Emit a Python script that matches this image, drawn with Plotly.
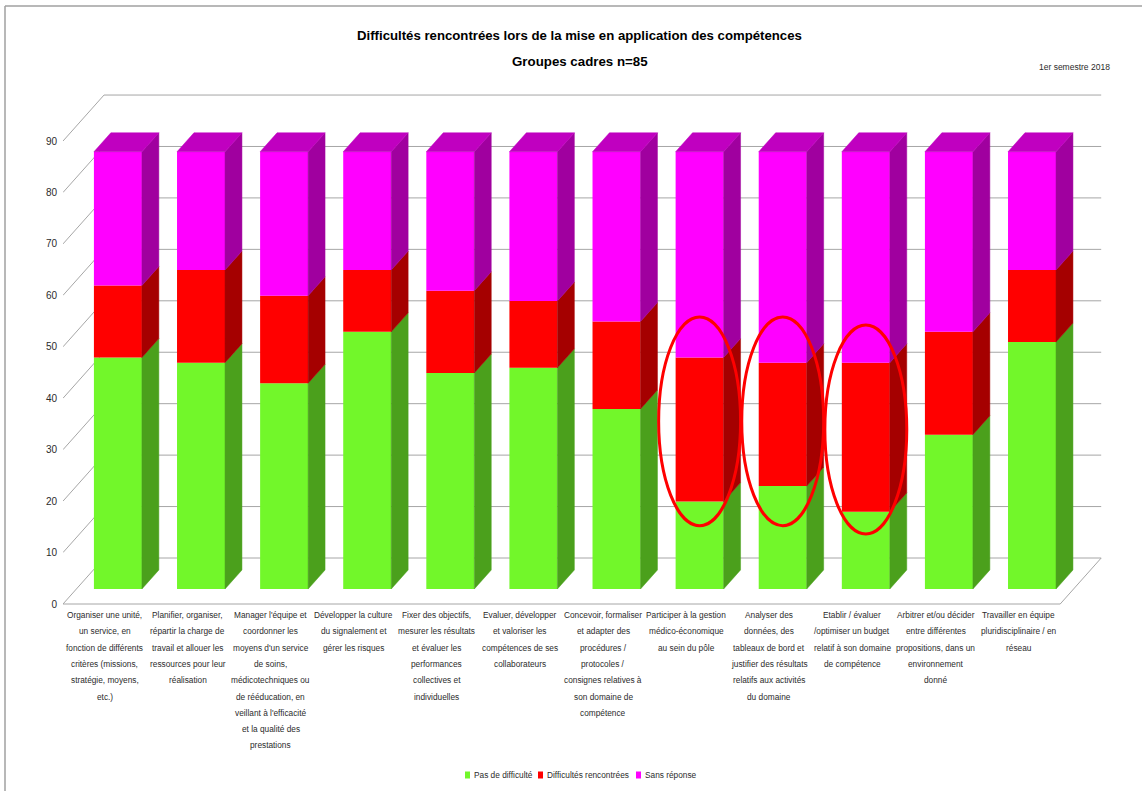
import plotly.graph_objects as go

# ---- data -------------------------------------------------------------
categories = [
    "Organiser une unité,<br>un service, en<br>fonction de différents<br>critères (missions,<br>stratégie, moyens,<br>etc.)",
    "Planifier, organiser,<br>répartir la charge de<br>travail et allouer les<br>ressources pour leur<br>réalisation",
    "Manager l'équipe et<br>coordonner les<br>moyens d'un service<br>de soins,<br>médicotechniques ou<br>de rééducation, en<br>veillant à l'efficacité<br>et la qualité des<br>prestations",
    "Développer la culture<br>du signalement et<br>gérer les risques",
    "Fixer des objectifs,<br>mesurer les résultats<br>et évaluer les<br>performances<br>collectives et<br>individuelles",
    "Evaluer, développer<br>et valoriser les<br>compétences de ses<br>collaborateurs",
    "Concevoir, formaliser<br>et adapter des<br>procédures /<br>protocoles /<br>consignes relatives à<br>son domaine de<br>compétence",
    "Participer à la gestion<br>médico-économique<br>au sein du pôle",
    "Analyser des<br>données, des<br>tableaux de bord et<br>justifier des résultats<br>relatifs aux activités<br>du domaine",
    "Etablir / évaluer<br>/optimiser un budget<br>relatif à son domaine<br>de compétence",
    "Arbitrer et/ou décider<br>entre différentes<br>propositions, dans un<br>environnement<br>donné",
    "Travailler en équipe<br>pluridisciplinaire / en<br>réseau",
]
pas_de_difficulte = [45, 44, 40, 50, 42, 43, 35, 17, 20, 15, 30, 48]
difficultes = [14, 18, 17, 12, 16, 13, 17, 28, 24, 29, 20, 14]
sans_reponse = [26, 23, 28, 23, 27, 29, 33, 40, 41, 41, 35, 23]
y_ticks = [0, 10, 20, 30, 40, 50, 60, 70, 80, 90]

series = [
    ("Pas de difficulté", pas_de_difficulte, "#72F72A", "#4BA01C"),
    ("Difficultés rencontrées", difficultes, "#FF0000", "#A50000"),
    ("Sans réponse", sans_reponse, "#FF00FF", "#A0009F"),
]
top_colour = "#C000C0"

# categories whose "difficulties" segment is circled (index, centre value)
highlights = [(7, 32.6), (8, 32.6), (9, 31.0)]

# ---- oblique projection settings --------------------------------------
PX_PER_CAT = 83.1          # horizontal pixels per category
PX_PER_UNIT = 5.144        # vertical pixels per value unit
DX = 41 / PX_PER_CAT       # depth of the floor, in category units
DV = 46 / PX_PER_UNIT      # depth of the floor, in value units
F0, F1 = 0.326, 0.739      # front / back of the bars as a fraction of depth
BAR_W = 48 / PX_PER_CAT

W, H = 1142, 791
ML, MR, MT, MB = 63, 40, 84, 179
plot_w = W - ML - MR
plot_h = H - MT - MB
x_range = [-0.5, -0.5 + plot_w / PX_PER_CAT]
v_bottom = -(H - MB - 604) / PX_PER_UNIT
y_range = [v_bottom, v_bottom + plot_h / PX_PER_UNIT]

n = len(categories)
x_left, x_right = -0.5, n - 0.5
grid_col = "#A6A6A6"
txt_font = "Liberation Sans, Arial, sans-serif"
txt_col = "#2b2b2b"


def paper_y(py):
    return (H - MB - py) / plot_h


def paper_x(px):
    return (px - ML) / plot_w


fig = go.Figure()

# front faces of the stacked columns
cum = [0.0] * n
bottoms, tops = [], []
for name, vals, col, side in series:
    b = list(cum)
    t = [c + v for c, v in zip(cum, vals)]
    bottoms.append(b)
    tops.append(t)
    fig.add_trace(go.Bar(
        x=[i + F0 * DX for i in range(n)],
        y=vals,
        base=[bb + F0 * DV for bb in b],
        width=BAR_W,
        name=name,
        marker=dict(color=col, line=dict(width=0)),
        hoverinfo="skip",
        showlegend=False,
    ))
    cum = t

# side faces
dd_x = (F1 - F0) * DX
for (name, vals, col, side), b, t in zip(series, bottoms, tops):
    xs, ys = [], []
    for i in range(n):
        xr = i + F0 * DX + BAR_W / 2
        xs += [xr, xr + dd_x, xr + dd_x, xr, xr, None]
        ys += [b[i] + F0 * DV, b[i] + F1 * DV, t[i] + F1 * DV, t[i] + F0 * DV,
               b[i] + F0 * DV, None]
    fig.add_trace(go.Scatter(x=xs, y=ys, mode="lines", fill="toself",
                             fillcolor=side, line=dict(width=0.5, color=side),
                             showlegend=False, hoverinfo="skip"))

# top faces
xs, ys = [], []
for i in range(n):
    xl = i + F0 * DX - BAR_W / 2
    xr = i + F0 * DX + BAR_W / 2
    t = tops[-1][i]
    xs += [xl, xr, xr + dd_x, xl + dd_x, xl, None]
    ys += [t + F0 * DV, t + F0 * DV, t + F1 * DV, t + F1 * DV, t + F0 * DV, None]
fig.add_trace(go.Scatter(x=xs, y=ys, mode="lines", fill="toself",
                         fillcolor=top_colour, line=dict(width=0.5, color=top_colour),
                         showlegend=False, hoverinfo="skip"))

# walls and floor
shapes = []
for v in y_ticks:
    shapes.append(dict(type="line", xref="x", yref="y", layer="below",
                       x0=x_left, y0=v, x1=x_left + DX, y1=v + DV,
                       line=dict(color=grid_col, width=1)))
    shapes.append(dict(type="line", xref="x", yref="y", layer="below",
                       x0=x_left + DX, y0=v + DV, x1=x_right + DX, y1=v + DV,
                       line=dict(color=grid_col, width=1)))
shapes.append(dict(type="line", xref="x", yref="y", layer="below",
                   x0=x_left, y0=0, x1=x_right, y1=0,
                   line=dict(color=grid_col, width=1)))
shapes.append(dict(type="line", xref="x", yref="y", layer="below",
                   x0=x_right, y0=0, x1=x_right + DX, y1=DV,
                   line=dict(color=grid_col, width=1)))

# circled segments
for idx, centre in highlights:
    cx = idx + F0 * DX
    cy = centre + F0 * DV
    shapes.append(dict(type="circle", xref="x", yref="y", layer="above",
                       x0=cx - 0.493, x1=cx + 0.493, y0=cy - 20.3, y1=cy + 20.3,
                       line=dict(color="#FF0000", width=3)))

# chart-area frame (left and top edges)
shapes.append(dict(type="line", xref="paper", yref="paper",
                   x0=paper_x(5), x1=paper_x(W), y0=paper_y(6), y1=paper_y(6),
                   line=dict(color="#A0A0A0", width=1.5)))
shapes.append(dict(type="line", xref="paper", yref="paper",
                   x0=paper_x(5), x1=paper_x(5), y0=paper_y(6), y1=paper_y(H),
                   line=dict(color="#A0A0A0", width=1.5)))

# category labels, one line at a time
annotations = []
for i, lab in enumerate(categories):
    for k, line in enumerate(lab.split("<br>")):
        annotations.append(dict(
            x=i, xref="x", y=0, yref="paper", yanchor="middle", xanchor="center",
            yshift=-(615 + 16.3 * k - (H - MB)), text=line, showarrow=False,
            font=dict(family=txt_font, size=8.3, color=txt_col)))

# legend: small swatches with their labels
legend_x = [465, 538, 636]
for (name, vals, col, side), lx in zip(series, legend_x):
    shapes.append(dict(type="rect", xref="paper", yref="paper",
                       x0=paper_x(lx), x1=paper_x(lx + 5),
                       y0=paper_y(771.5), y1=paper_y(778.5),
                       line=dict(width=0), fillcolor=col))
    annotations.append(dict(text=name, x=paper_x(lx + 7), y=paper_y(775),
                            xref="paper", yref="paper", xanchor="left",
                            yanchor="middle", showarrow=False,
                            font=dict(family=txt_font, size=8.3, color=txt_col)))

annotations += [
    dict(text="<b>Difficultés rencontrées lors de la mise en application des compétences</b>",
         x=paper_x(579), y=paper_y(35), xref="paper", yref="paper",
         xanchor="center", yanchor="middle", showarrow=False,
         font=dict(family=txt_font, size=13.2, color="#000000")),
    dict(text="<b>Groupes cadres n=85</b>",
         x=paper_x(580), y=paper_y(62), xref="paper", yref="paper",
         xanchor="center", yanchor="middle", showarrow=False,
         font=dict(family=txt_font, size=13.3, color="#000000")),
    dict(text="1er semestre 2018",
         x=paper_x(1074), y=paper_y(67), xref="paper", yref="paper",
         xanchor="center", yanchor="middle", showarrow=False,
         font=dict(family=txt_font, size=8.5, color=txt_col)),
]

fig.update_layout(
    width=W, height=H,
    margin=dict(l=ML, r=MR, t=MT, b=MB, autoexpand=False),
    paper_bgcolor="#FFFFFF", plot_bgcolor="rgba(0,0,0,0)",
    barmode="overlay",
    showlegend=False,
    xaxis=dict(range=x_range, showgrid=False, zeroline=False, showline=False,
               showticklabels=False, ticks=""),
    yaxis=dict(range=y_range, tickvals=y_ticks, showgrid=False, zeroline=False,
               showline=False, ticks="", ticklabelstandoff=5,
               tickfont=dict(family=txt_font, size=10, color=txt_col)),
    shapes=shapes,
    annotations=annotations,
)

fig.write_html("out.html")
